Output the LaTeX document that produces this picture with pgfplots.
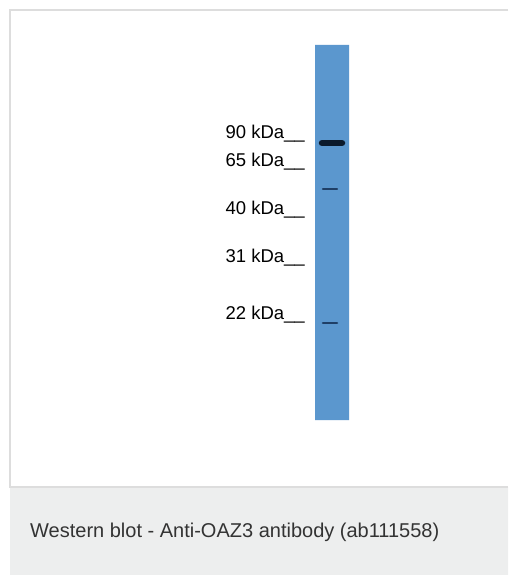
\documentclass[border=0pt]{standalone}
\usepackage{pgfplots}
\pgfplotsset{compat=1.18}
\usepackage{fontspec}
\setmainfont{Liberation Sans}

\definecolor{c_lane}{HTML}{5B97CE}
\definecolor{c_band}{HTML}{0B1A2C}
\definecolor{c_faint}{HTML}{1F3F66}
\definecolor{c_frame}{HTML}{DDDDDD}
\definecolor{c_capbg}{HTML}{EDEEEE}
\definecolor{c_captext}{HTML}{333333}

\begin{document}
\begin{tikzpicture}
  \begin{axis}[
    scale only axis,
    width=508bp, height=575bp,
    xmin=0, xmax=508, ymin=0, ymax=575,
    y dir=reverse,
    hide axis,
    clip=false,
  ]
  % page background
  \addplot [fill=white, draw=none] coordinates {(0,0) (508,0) (508,575) (0,575) (0,0)};
  % caption strip
  \addplot [fill=c_capbg, draw=none] coordinates {(10,487) (508,487) (508,575) (10,575) (10,487)};
  % frame
  \addplot [c_frame, line width=2bp] coordinates {(508,10) (10,10) (10,487) (508,487)};
  % lane
  \addplot [fill=c_lane, draw=none] coordinates {(315,45) (349,45) (349,420) (315,420) (315,45)};
  % bands
  \addplot [c_band, line width=6.5bp, line cap=round] coordinates {(322,143) (342,143)};
  \addplot [c_faint, line width=2.4bp, line cap=round] coordinates {(323,189) (337,189)};
  \addplot [c_faint, line width=2.6bp, line cap=round] coordinates {(323,323) (337,323)};
  % marker labels
  \addplot [draw=none, mark=none, point meta=explicit symbolic,
    nodes near coords,
    every node near coord/.style={anchor=base east, inner sep=0pt,
      font=\fontsize{18.5bp}{22bp}\selectfont, text=black}]
    coordinates {
      (305,138.5) [90 kDa\_\_]
      (305,166) [65 kDa\_\_]
      (305,214) [40 kDa\_\_]
      (305,262) [31 kDa\_\_]
      (305,319) [22 kDa\_\_]
    };
  \node [anchor=base west, inner sep=0pt, text=c_captext,
    font=\fontsize{20bp}{24bp}\selectfont] at (axis cs:30,537)
    {Western blot - Anti-OAZ3 antibody (ab111558)};
  \end{axis}
\end{tikzpicture}
\end{document}
